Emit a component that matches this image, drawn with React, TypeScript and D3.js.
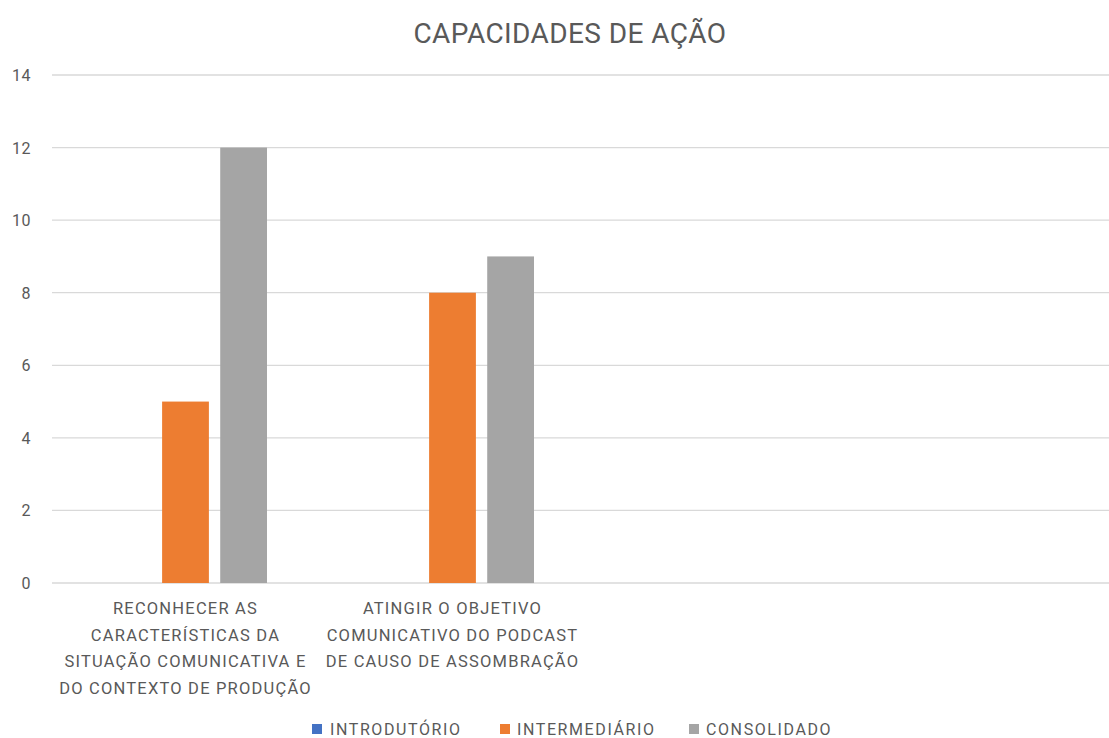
import React from "react";
import * as d3 from "d3";

const title = "CAPACIDADES DE AÇÃO";
const categories = [
  ["RECONHECER AS", "CARACTERÍSTICAS DA", "SITUAÇÃO COMUNICATIVA E", "DO CONTEXTO DE PRODUÇÃO"],
  ["ATINGIR O OBJETIVO", "COMUNICATIVO DO PODCAST", "DE CAUSO DE ASSOMBRAÇÃO"],
  [],
  [],
];
const seriesNames = ["INTRODUTÓRIO", "INTERMEDIÁRIO", "CONSOLIDADO"];
const introdutorio = [0, 0, null, null];
const intermediario = [5, 8, null, null];
const consolidado = [12, 9, null, null];
const yTicks = [0, 2, 4, 6, 8, 10, 12, 14];
const colors = ["#4472C4", "#ED7D31", "#A5A5A5"];

const W = 1109;
const H = 738;
const FONT = "Roboto, 'Open Sans', sans-serif";

export default function App() {
  const series = [introdutorio, intermediario, consolidado];
  const x0 = d3
    .scaleBand<number>()
    .domain(categories.map((_, i) => i))
    .range([52, 52 + 4 * 267])
    .paddingInner(0)
    .paddingOuter(0);
  const groupPad = 52;
  const x1 = d3
    .scaleBand<number>()
    .domain(seriesNames.map((_, i) => i))
    .range([groupPad, x0.bandwidth() - groupPad])
    .paddingInner(11.3 / 58);
  const y = d3.scaleLinear().domain([0, 14]).range([583, 75]);

  const legendItems = [
    { x: 312, textX: 330 },
    { x: 500, textX: 517 },
    { x: 689, textX: 706 },
  ];

  return (
    <svg
      width={W}
      height={H}
      style={{ position: "absolute", left: 0, top: 0, background: "#fff" }}
      fontFamily={FONT}
    >
      <rect x={0} y={0} width={W} height={H} fill="#fff" />
      <text x={570} y={43} textAnchor="middle" fontSize={28} letterSpacing={0.4} fill="#595959">
        {title}
      </text>
      {yTicks.map((t) => (
        <g key={t}>
          <line x1={52} x2={W} y1={y(t)} y2={y(t)} stroke="#D9D9D9" strokeWidth={1.3} />
          <text x={31} y={y(t) + 6} textAnchor="end" fontSize={16} letterSpacing={0.5} fill="#595959">
            {t}
          </text>
        </g>
      ))}
      {categories.map((_, ci) =>
        series.map((s, si) => {
          const v = s[ci];
          if (v == null || v === 0) return null;
          const bx = (x0(ci) as number) + (x1(si) as number);
          return (
            <rect
              key={ci + "-" + si}
              x={bx}
              y={y(v)}
              width={x1.bandwidth()}
              height={y(0) - y(v)}
              fill={colors[si]}
            />
          );
        })
      )}
      {categories.map((lines, ci) => {
        const cx = (x0(ci) as number) + x0.bandwidth() / 2;
        return (
          <text key={ci} textAnchor="middle" fontSize={16.5} letterSpacing={1.2} fill="#595959">
            {lines.map((l, li) => (
              <tspan key={li} x={cx} y={614 + li * 26.5}>
                {l}
              </tspan>
            ))}
          </text>
        );
      })}
      {seriesNames.map((n, i) => (
        <g key={n}>
          <rect x={legendItems[i].x} y={724} width={10} height={10} fill={colors[i]} />
          <text x={legendItems[i].textX} y={735} fontSize={16} letterSpacing={1.6} fill="#595959">
            {n}
          </text>
        </g>
      ))}
    </svg>
  );
}
